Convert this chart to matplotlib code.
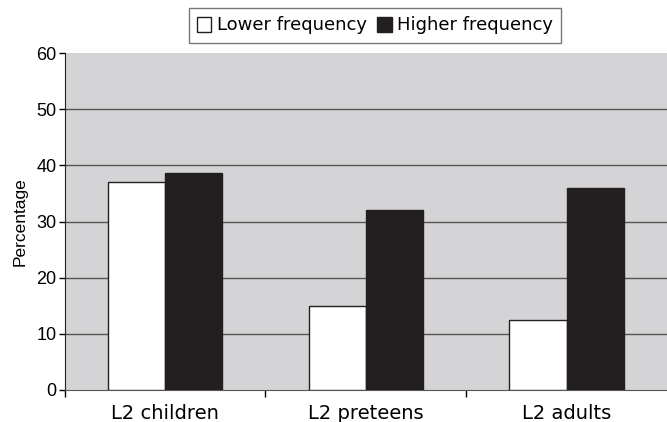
import numpy as np
import matplotlib.pyplot as plt
from matplotlib.patches import Patch

# Datos
groups = ['L2 children', 'L2 preteens', 'L2 adults']
lower = [37, 15, 12.5]
higher = [38.6, 32.1, 36]
yticks = [0, 10, 20, 30, 40, 50, 60]

fig = plt.figure(figsize=(6.67, 4.22), dpi=100)
ax = fig.add_axes([0.097, 0.076, 0.903, 0.798])
ax.set_facecolor('#d4d4d6')

x = np.arange(len(groups))
w = 0.285
ax.bar(x - w / 2, lower, w, color='white', edgecolor='#231f20', linewidth=1.0, zorder=3)
ax.bar(x + w / 2, higher, w, color='#231f20', edgecolor='#231f20', linewidth=1.0, zorder=3)

# Rejilla horizontal
for v in yticks[1:-1]:
    ax.axhline(v, color='#555555', linewidth=1.0, zorder=1)

ax.set_xlim(-0.5, 2.5)
ax.set_ylim(0, 60)
ax.set_yticks(yticks)
ax.set_yticklabels([str(v) for v in yticks], fontsize=13, family='Liberation Sans')
ax.tick_params(axis='y', direction='out', length=4, width=1, pad=2)

# Etiquetas de categoria sin marcas; marcas en los limites de grupo
ax.set_xticks(x)
ax.set_xticklabels(groups, fontsize=14, family='DejaVu Sans')
ax.tick_params(axis='x', length=0, pad=10)
ax.set_xticks([-0.5, 0.5, 1.5], minor=True)
ax.tick_params(axis='x', which='minor', direction='out', length=5, width=1)

for s in ['top', 'right']:
    ax.spines[s].set_visible(False)
ax.spines['left'].set_color('#231f20')
ax.spines['bottom'].set_color('#555555')

ax.set_ylabel('Percentage', fontsize=12.5, family='Liberation Sans', labelpad=6)

handles = [Patch(facecolor='white', edgecolor='#231f20', linewidth=1.0),
           Patch(facecolor='#231f20', edgecolor='#231f20')]
leg = fig.legend(handles, ['Lower frequency', 'Higher frequency'],
                 loc='center', bbox_to_anchor=(375 / 667, 1 - 25.5 / 422),
                 ncol=2, frameon=True, fancybox=False, edgecolor='#555555',
                 handlelength=0.8, handleheight=0.9, handletextpad=0.3,
                 columnspacing=0.6, borderpad=0.45, borderaxespad=0,
                 prop={'family': 'DejaVu Sans', 'size': 13})
leg.get_frame().set_linewidth(1.0)

fig.savefig('out.png', dpi=100)
